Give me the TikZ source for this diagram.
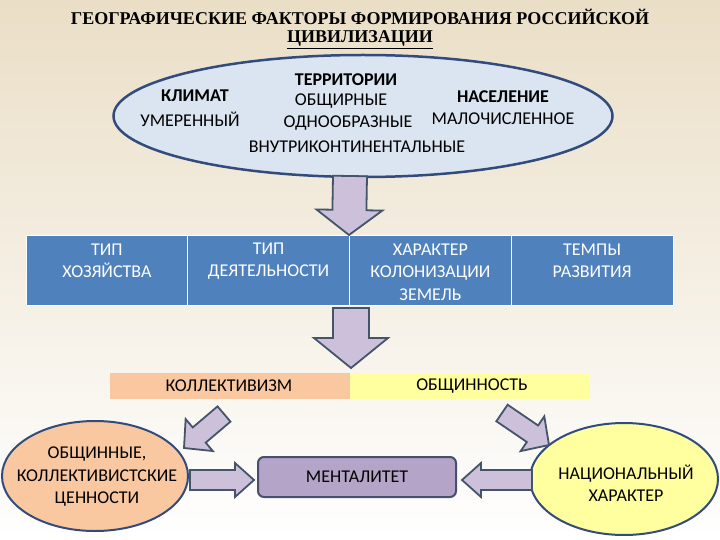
\documentclass[tikz,border=0pt]{standalone}
\usepackage{fontspec}
\setmainfont{Carlito}
\newfontfamily\titlefont{Liberation Serif}
\usetikzlibrary{calc,shapes.geometric}
\definecolor{bgtop}{RGB}{234,222,198}
\definecolor{bgmid}{RGB}{246,241,230}
\definecolor{ellfill}{RGB}{219,229,241}
\definecolor{ellborder}{RGB}{50,75,125}
\definecolor{arrfill}{RGB}{204,192,218}
\definecolor{arrborder}{RGB}{68,84,106}
\definecolor{cellblue}{RGB}{79,129,189}
\definecolor{peach}{RGB}{250,200,160}
\definecolor{lightyellow}{RGB}{255,255,160}
\definecolor{mentfill}{RGB}{180,165,200}
\definecolor{mentborder}{RGB}{70,80,110}
\newcommand\blockarrow[5]{%
  \coordinate (ba-n) at ($(#2)!#5!(#1)$);
  \draw[barrow] ($(#1)!#3!90:(#2)$) -- ($(ba-n)!#3!90:(#2)$) -- ($(ba-n)!#4!90:(#2)$) -- (#2)
    -- ($(ba-n)!#4!-90:(#2)$) -- ($(ba-n)!#3!-90:(#2)$) -- ($(#1)!#3!-90:(#2)$) -- cycle;}
\begin{document}
\begin{tikzpicture}[x=1pt,y=-1pt,
  every node/.style={inner sep=0pt, font=\fontsize{18}{22.5}\selectfont},
  barrow/.style={fill=arrfill, draw=arrborder, line width=1.8pt, line join=miter},
  cell/.style={rectangle, fill=cellblue, draw=white, line width=0.8pt, minimum width=161.75pt, minimum height=70pt},
  celltext/.style={align=center, text=white},
  txt/.style={align=center, text=black},
  bold/.style={font=\fontsize{18}{22.5}\selectfont\bfseries}]
\useasboundingbox (0,0) rectangle (720,540);
\shade[top color=bgtop, middle color=bgmid, bottom color=white] (0,0) rectangle (720,540);

% title
\node[font=\titlefont\fontsize{18}{18.5}\selectfont\bfseries, text=black, align=center] (title) at (360,29) {ГЕОГРАФИЧЕСКИЕ ФАКТОРЫ ФОРМИРОВАНИЯ РОССИЙСКОЙ\\\underline{ЦИВИЛИЗАЦИИ}};

% top ellipse
\node[ellipse, draw=ellborder, line width=2.5pt, fill=ellfill, minimum width=499pt, minimum height=122pt] (terr) at (363,116) {};
\node[txt, bold] (klim) at (195,96) {КЛИМАТ};
\node[txt] (umer) at (190,119) {УМЕРЕННЫЙ};
\node[txt, bold] (terrh) at (346,80) {ТЕРРИТОРИИ};
\node[txt] (obsh) at (341,101) {ОБЩИРНЫЕ};
\node[txt] (odno) at (348,123) {ОДНООБРАЗНЫЕ};
\node[txt] (vnut) at (357,147) {ВНУТРИКОНТИНЕНТАЛЬНЫЕ};
\node[txt, bold] (nas) at (503,97) {НАСЕЛЕНИЕ};
\node[txt] (malo) at (503,119) {МАЛОЧИСЛЕННОЕ};

% blue cells
\node[cell] (c1) at (106.9,270) {};
\node[cell] (c2) at (268.6,270) {};
\node[cell] (c3) at (430.4,270) {};
\node[cell] (c4) at (592.1,270) {};
\node[celltext] (c1t) at (106.9,261) {ТИП\\ХОЗЯЙСТВА};
\node[celltext] (c2t) at (268.6,261) {ТИП\\ДЕЯТЕЛЬНОСТИ};
\node[celltext] (c3t) at (430.4,272) {ХАРАКТЕР\\КОЛОНИЗАЦИИ\\ЗЕМЕЛЬ};
\node[celltext] (c4t) at (592.1,261) {ТЕМПЫ\\РАЗВИТИЯ};

% band
\node[rectangle, fill=peach, minimum width=240pt, minimum height=26pt] (koll) at (230,386) {};
\node[rectangle, fill=lightyellow, minimum width=240pt, minimum height=26pt] (obshn) at (470,386) {};
\node[txt] at (229,386) {КОЛЛЕКТИВИЗМ};
\node[txt] at (472,386) {ОБЩИННОСТЬ};

% lower ellipses and box
\node[ellipse, draw=ellborder, line width=2pt, fill=peach, minimum width=186pt, minimum height=110pt] (cenn) at (95,476) {};
\node[txt] (cennt) at (97,477) {ОБЩИННЫЕ,\\КОЛЛЕКТИВИСТСКИЕ\\ЦЕННОСТИ};
\node[ellipse, draw=ellborder, line width=2pt, fill=lightyellow, minimum width=188pt, minimum height=112pt] (nach) at (624,479) {};
\node[txt] (nacht) at (626,483) {НАЦИОНАЛЬНЫЙ\\ХАРАКТЕР};
\node[rectangle, rounded corners=6pt, draw=mentborder, line width=2pt, fill=mentfill, minimum width=198pt, minimum height=40pt] (ment) at (357,477) {};
\node[txt] (mentt) at (357,477) {МЕНТАЛИТЕТ};

% arrows
\coordinate (a1s) at (350,176);
\coordinate (a1e) at (349,235);
\blockarrow{a1s}{a1e}{17pt}{33pt}{25pt}
\coordinate (a2s) at (351,308);
\coordinate (a2e) at (351,368);
\blockarrow{a2s}{a2e}{18pt}{37pt}{30pt}
\coordinate (a3s) at (224,414);
\coordinate (a3e) at (184,448);
\blockarrow{a3s}{a3e}{10pt}{21pt}{20pt}
\coordinate (a4s) at (502,413);
\coordinate (a4e) at (549,445);
\blockarrow{a4s}{a4e}{10pt}{21pt}{20pt}
\coordinate (a5s) at (190,480);
\coordinate (a5e) at (254,480);
\blockarrow{a5s}{a5e}{10pt}{17pt}{19pt}
\coordinate (a6s) at (532,480);
\coordinate (a6e) at (462,480);
\blockarrow{a6s}{a6e}{10pt}{17pt}{19pt}
\end{tikzpicture}
\end{document}
